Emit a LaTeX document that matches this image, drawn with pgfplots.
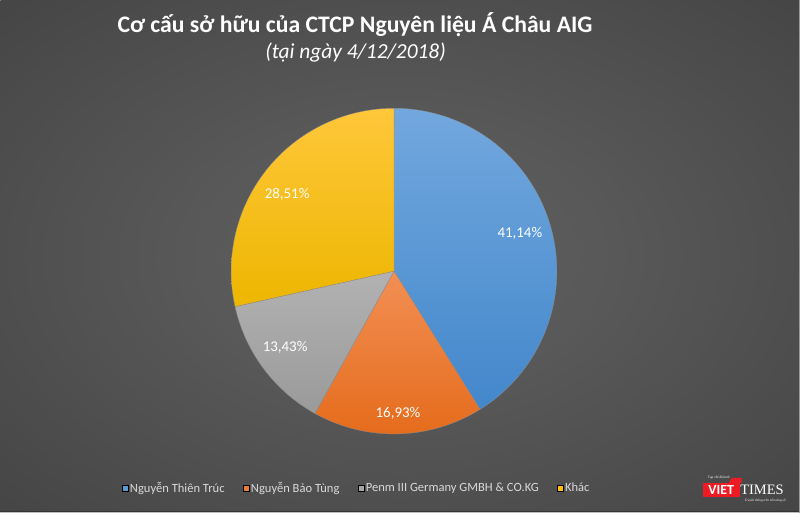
\documentclass[border=0pt]{standalone}
\usepackage{pgfplots}
\usepackage{pgfplotstable}
\pgfplotsset{compat=1.18}
\usepackage{fontspec}
\setmainfont{Carlito}
\newfontfamily\serifft{Liberation Serif}
\definecolor{bgin}{HTML}{5C5C5C}
\definecolor{bgout}{HTML}{262626}
\definecolor{pblue}{HTML}{5B9BD5}
\definecolor{pbluet}{HTML}{72A8DE}
\definecolor{pblueb}{HTML}{4387CB}
\definecolor{porange}{HTML}{ED7D31}
\definecolor{poranget}{HTML}{F28F55}
\definecolor{porangeb}{HTML}{E56C1C}
\definecolor{pgray}{HTML}{A5A5A5}
\definecolor{pgrayt}{HTML}{B2B2B2}
\definecolor{pgrayb}{HTML}{9A9A9A}
\definecolor{pyellow}{HTML}{FFC000}
\definecolor{pyellowt}{HTML}{FFC73A}
\definecolor{pyellowb}{HTML}{EDB600}
\definecolor{legtext}{HTML}{D9D9D9}
\definecolor{vtred}{HTML}{ED1C24}
\pgfdeclareradialshading{bgshade}{\pgfpoint{0bp}{0bp}}{color(0bp)=(bgin); color(12bp)=(bgin!95!bgout); color(72bp)=(bgout)}

\pgfplotstableread{
slice share
1 41.14
2 16.93
3 13.43
4 28.51
}\pietable

\pgfplotstablegetelem{0}{share}\of\pietable \let\sA\pgfplotsretval
\pgfplotstablegetelem{1}{share}\of\pietable \let\sB\pgfplotsretval
\pgfplotstablegetelem{2}{share}\of\pietable \let\sC\pgfplotsretval
\pgfplotstablegetelem{3}{share}\of\pietable \let\sD\pgfplotsretval
\pgfmathsetmacro\aA{90}
\pgfmathsetmacro\aB{\aA-3.6*\sA}
\pgfmathsetmacro\aC{\aB-3.6*\sB}
\pgfmathsetmacro\aD{\aC-3.6*\sC}
\pgfmathsetmacro\aE{\aD-3.6*\sD}

\begin{document}
\begin{tikzpicture}
\shade[shading=bgshade] (0bp,0bp) rectangle (800bp,513bp);
\draw[black!80, line width=0.8bp] (0bp,1.6bp) -- (800bp,1.6bp);
\draw[white!75!black, line width=0.8bp] (0bp,0.4bp) -- (800bp,0.4bp);
\draw[white!60!black, line width=0.8bp] (799.4bp,0bp) -- (799.4bp,513bp);
\path[use as bounding box] (0bp,0bp) rectangle (800bp,513bp);

\node[anchor=base, text=white, font=\bfseries\fontsize{23.8}{27}\selectfont] at (355bp,481bp) {Cơ cấu sở hữu của CTCP Nguyên liệu Á Châu AIG};
\node[anchor=base, text=white, font=\itshape\fontsize{21.5}{24}\selectfont] at (355.5bp,455bp) {(tại ngày 4/12/2018)};

\begin{axis}[
  at={(394bp,242bp)}, anchor=center,
  width=326bp, height=326bp, scale only axis,
  xmin=-163, xmax=163, ymin=-163, ymax=163,
  hide axis, clip=false,
  legend columns=4,
  legend cell align=left,
  legend style={at={(0.385,-0.166)}, anchor=center, draw=none, fill=none,
    text=legtext, font=\fontsize{12.6}{14}\selectfont,
    nodes={inner sep=1.5bp},
    /tikz/every even column/.append style={column sep=17bp}},
  legend image code/.code={\fill[#1] (0bp,-3bp) rectangle (6bp,3bp);},
]
\addplot[forget plot, top color=pbluet, bottom color=pblueb, draw=black!45, line width=0.3bp, domain=\aB:\aA, samples=120, variable=\t]
  ({163*cos(\t)},{163*sin(\t)}) -- (axis cs:0,0) -- cycle;
\addplot[forget plot, top color=poranget, bottom color=porangeb, draw=black!45, line width=0.3bp, domain=\aC:\aB, samples=60, variable=\t]
  ({163*cos(\t)},{163*sin(\t)}) -- (axis cs:0,0) -- cycle;
\addplot[forget plot, top color=pgrayt, bottom color=pgrayb, draw=black!45, line width=0.3bp, domain=\aD:\aC, samples=50, variable=\t]
  ({163*cos(\t)},{163*sin(\t)}) -- (axis cs:0,0) -- cycle;
\addplot[forget plot, top color=pyellowt, bottom color=pyellowb, draw=black!45, line width=0.3bp, domain=\aE:\aD, samples=90, variable=\t]
  ({163*cos(\t)},{163*sin(\t)}) -- (axis cs:0,0) -- cycle;

\addlegendimage{fill=pblue}
\addlegendimage{fill=porange}
\addlegendimage{fill=pgray}
\addlegendimage{fill=pyellow}
\legend{Nguyễn Thiên Trúc, Nguyễn Bảo Tùng, Penm III Germany GMBH \& CO.KG, Khác}

\node[text=white, font=\fontsize{15}{18}\selectfont] at (axis cs:126,38) {41,14\%};
\node[text=white, font=\fontsize{15}{18}\selectfont] at (axis cs:4,-142) {16,93\%};
\node[text=white, font=\fontsize{15}{18}\selectfont] at (axis cs:-109,-76) {13,43\%};
\node[text=white, font=\fontsize{15}{18}\selectfont] at (axis cs:-107,77) {28,51\%};
\end{axis}

% VietTimes logo
\fill[vtred] (703bp,16bp) rectangle (740bp,30bp);
\fill[vtred] (729bp,30bp) -- (742bp,30bp) -- (742bp,35bp) -- (732bp,35bp) -- cycle;
\node[anchor=base, text=white, font=\bfseries\fontsize{14}{14}\selectfont, inner sep=0pt] at (721.5bp,18bp) {VIET};
\node[anchor=base west, text=white, font=\serifft\fontsize{14.5}{14.5}\selectfont, inner sep=0pt] at (740.5bp,18.5bp) {TIMES};
\node[anchor=base west, text=white, font=\serifft\fontsize{3.6}{4}\selectfont, inner sep=0pt] at (708bp,34bp) {Tạp chí điện tử};
\node[anchor=base west, text=white, font=\serifft\itshape\fontsize{3.4}{4}\selectfont, inner sep=0pt] at (745bp,11.5bp) {Truyền thông trên nền tảng số};
\end{tikzpicture}
\end{document}
